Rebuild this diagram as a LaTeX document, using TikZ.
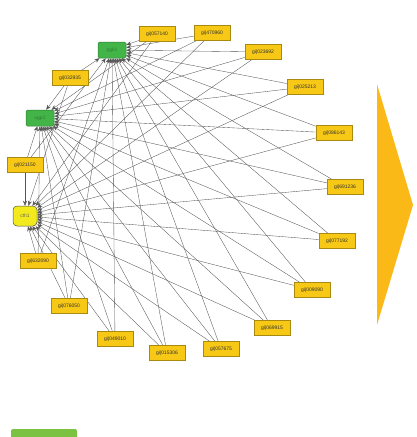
\documentclass[tikz,border=0pt]{standalone}
\usepackage{fontspec}
\setmainfont{Liberation Sans}
\usetikzlibrary{arrows.meta,backgrounds}
\definecolor{gene}{HTML}{F7C815}
\definecolor{geneline}{HTML}{A88A10}
\definecolor{hubgreen}{HTML}{43B548}
\definecolor{hubgreenline}{HTML}{2E7D32}
\definecolor{hubyellow}{HTML}{F2EA1C}
\definecolor{edgegray}{HTML}{555555}
\definecolor{bigarrow}{HTML}{FBB917}
\definecolor{keygreen}{HTML}{7CC242}

\begin{document}
\begin{tikzpicture}[
  x=1pt,y=-1pt,
  font=\fontsize{5}{6}\selectfont,
  gi/.style={draw=geneline,fill=gene,line width=.5pt,inner sep=0pt,
    minimum width=36pt,minimum height=15pt,text=black!80},
  hub/.style={draw=hubgreenline,fill=hubgreen,line width=.5pt,rounded corners=1.5pt,
    inner sep=0pt,minimum width=28pt,minimum height=16pt,text=hubgreenline},
  hubc/.style={draw=black!70,fill=hubyellow,line width=.5pt,rounded corners=4pt,
    inner sep=0pt,minimum width=24pt,minimum height=20pt,text=black!60},
  link/.style={-{Stealth[length=5pt,width=4pt]},draw=edgegray,line width=.35pt}
]
\useasboundingbox (0,0) rectangle (416,437);

% hubs
\node[hub] (hubA) at (112,50) {pgk1};
\node[hub] (hubB) at (40,118) {ugp1};
\node[hubc] (hubC) at (25,216) {cth1};

% interacting genes, clockwise from the top
\node[gi] (g01) at (157,34) {gi|057140};
\node[gi] (g02) at (212,33) {gi|470960};
\node[gi] (g03) at (263,52) {gi|023692};
\node[gi] (g04) at (305,87) {gi|025213};
\node[gi] (g05) at (334,133) {gi|086143};
\node[gi] (g06) at (345,187) {gi|691236};
\node[gi] (g07) at (337,241) {gi|077192};
\node[gi] (g08) at (312,290) {gi|009090};
\node[gi] (g09) at (272,328) {gi|069915};
\node[gi] (g10) at (221,349) {gi|057675};
\node[gi] (g11) at (167,353) {gi|015306};
\node[gi] (g12) at (115,339) {gi|049010};
\node[gi] (g13) at (69,306) {gi|076050};
\node[gi] (g14) at (38,261) {gi|632090};
\node[gi] (g15) at (25,165) {gi|021150};
\node[gi] (g16) at (70,78) {gi|032935};

\begin{scope}[on background layer]
\draw[link] (g01) -- (hubA); \draw[link] (g01) -- (hubB); \draw[link] (g01) -- (hubC);
\draw[link] (g02) -- (hubA); \draw[link] (g02) -- (hubB); \draw[link] (g02) -- (hubC);
\draw[link] (g03) -- (hubA); \draw[link] (g03) -- (hubB); \draw[link] (g03) -- (hubC);
\draw[link] (g04) -- (hubA); \draw[link] (g04) -- (hubB); \draw[link] (g04) -- (hubC);
\draw[link] (g05) -- (hubA); \draw[link] (g05) -- (hubB); \draw[link] (g05) -- (hubC);
\draw[link] (g06) -- (hubA); \draw[link] (g06) -- (hubB); \draw[link] (g06) -- (hubC);
\draw[link] (g07) -- (hubA); \draw[link] (g07) -- (hubB); \draw[link] (g07) -- (hubC);
\draw[link] (g08) -- (hubA); \draw[link] (g08) -- (hubB); \draw[link] (g08) -- (hubC);
\draw[link] (g09) -- (hubA); \draw[link] (g09) -- (hubB); \draw[link] (g09) -- (hubC);
\draw[link] (g10) -- (hubA); \draw[link] (g10) -- (hubB); \draw[link] (g10) -- (hubC);
\draw[link] (g11) -- (hubA); \draw[link] (g11) -- (hubB); \draw[link] (g11) -- (hubC);
\draw[link] (g12) -- (hubA); \draw[link] (g12) -- (hubB); \draw[link] (g12) -- (hubC);
\draw[link] (g13) -- (hubA); \draw[link] (g13) -- (hubB); \draw[link] (g13) -- (hubC);
\draw[link] (g14) -- (hubA); \draw[link] (g14) -- (hubB); \draw[link] (g14) -- (hubC);
\draw[link] (g15) -- (hubA); \draw[link] (g15) -- (hubB); \draw[link] (g15) -- (hubC);
\draw[link] (g16) -- (hubA); \draw[link] (g16) -- (hubB); \draw[link] (g16) -- (hubC);
\end{scope}

% big arrow on the right and the key box below
\fill[bigarrow] (377,84) -- (413,205) -- (377,325) -- cycle;
\fill[keygreen,rounded corners=2pt] (11,429) rectangle (77,440);

\end{tikzpicture}
\end{document}
